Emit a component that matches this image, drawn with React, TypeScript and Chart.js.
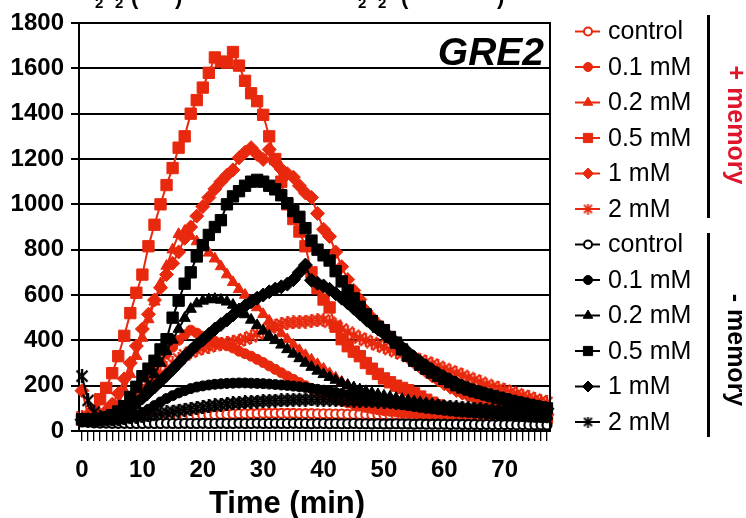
import React, { useEffect, useRef } from "react";
import { Chart, registerables } from "chart.js";
import { drawPoint } from "chart.js/helpers";

Chart.register(...registerables);

const FONT = 'Arial, "Liberation Sans", Helvetica, sans-serif';
const RED = "#e8290d";
const MEMORY_RED = "#e0142a";
const BLACK = "#000000";

// Sampling times, one reading per minute
const timeMin = Array.from({ length: 78 }, (_, i) => i);
const xLabelEvery = 10;

const doseLabels = ["control", "0.1 mM", "0.2 mM", "0.5 mM", "1 mM", "2 mM"];
const groupLabels = ["+ memory", "- memory"];
const panelName = "GRE2";
const xTitle = "Time (min)";
const headerParts = ["H", "2", "O", "2", "(", "mM", ")"];

// + memory (pre-treated cells)
const plusControl = [
  45, 42, 40, 40, 42, 44, 45, 46, 48, 50,
  52, 54, 56, 58, 60, 62, 64, 66, 68, 70,
  70, 72, 72, 74, 74, 75, 76, 76, 77, 77,
  78, 78, 78, 78, 78, 78, 77, 77, 77, 76,
  76, 76, 75, 75, 74, 74, 73, 73, 72, 72,
  71, 70, 70, 69, 68, 68, 67, 66, 66, 65,
  64, 63, 62, 61, 60, 59, 58, 57, 56, 55,
  54, 53, 52, 51, 50, 49, 48, 47,
];
const plus01 = [
  50, 48, 46, 45, 48, 52, 58, 75, 105, 145,
  185, 225, 265, 305, 340, 370, 400, 425, 445, 432,
  418, 406, 396, 386, 376, 366, 352, 341, 330, 316,
  302, 287, 272, 257, 242, 228, 214, 200, 187, 174,
  162, 151, 141, 132, 124, 117, 110, 104, 99, 94,
  90, 87, 84, 81, 79, 77, 75, 73, 71, 69,
  67, 65, 63, 61, 60, 58, 57, 56, 55, 54,
  53, 52, 51, 50, 49, 48, 47, 46,
];
const plus02 = [
  52, 50, 52, 55, 60, 80, 118, 178, 250, 330,
  410, 492, 570, 650, 728, 800, 868, 882, 860, 836,
  810, 786, 760, 726, 690, 656, 625, 600, 574, 545,
  515, 486, 456, 430, 404, 380, 356, 334, 314, 294,
  274, 254, 235, 216, 201, 188, 176, 166, 157, 150,
  143, 137, 131, 126, 121, 116, 111, 106, 102, 98,
  94, 90, 87, 84, 81, 78, 76, 74, 72, 70,
  68, 66, 64, 62, 60, 58, 56, 55,
];
const plus05 = [
  50, 58, 90, 140, 190, 255, 330, 420, 520, 610,
  690, 815, 910, 1000, 1085, 1160, 1250, 1300, 1400, 1460,
  1515, 1580, 1648, 1630, 1625, 1672, 1612, 1545, 1490, 1455,
  1395, 1300, 1200, 1100, 1000, 935, 880, 815, 700, 630,
  580, 545, 460, 405, 374, 350, 330, 300, 275, 252,
  232, 215, 200, 190, 180, 166, 152, 138, 125, 113,
  103, 96, 90, 85, 81, 78, 75, 72, 70, 68,
  66, 64, 63, 62, 61, 60, 59, 58,
];
const plus1 = [
  178, 72, 60, 68, 88, 118, 165, 230, 300, 375,
  450, 515, 578, 632, 690, 740, 790, 850, 900, 948,
  990, 1030, 1068, 1100, 1128, 1152, 1205, 1230, 1250, 1220,
  1198, 1242, 1185, 1155, 1135, 1120, 1082, 1050, 1030, 960,
  890, 858, 790, 725, 668, 620, 580, 530, 500, 470,
  440, 410, 380, 352, 325, 302, 282, 262, 243, 225,
  208, 193, 179, 167, 156, 146, 137, 128, 120, 113,
  107, 101, 96, 91, 86, 81, 76, 72,
];
const plus2 = [
  62, 60, 56, 55, 58, 68, 84, 104, 128, 152,
  178, 203, 228, 252, 276, 298, 318, 336, 348, 358,
  366, 372, 378, 384, 388, 393, 398, 406, 416, 428,
  442, 455, 465, 472, 476, 479, 481, 483, 486, 488,
  490, 480, 466, 450, 436, 422, 410, 400, 390, 380,
  370, 360, 350, 340, 330, 320, 312, 304, 295, 285,
  275, 265, 255, 245, 235, 225, 215, 205, 196, 188,
  180, 172, 164, 156, 148, 140, 133, 126,
];

// - memory (naive cells)
const minusControl = [
  40, 38, 36, 35, 35, 34, 34, 34, 33, 33,
  33, 34, 33, 33, 34, 33, 33, 34, 33, 33,
  34, 33, 33, 34, 33, 33, 34, 33, 33, 34,
  33, 33, 34, 33, 33, 34, 33, 33, 32, 33,
  33, 32, 33, 32, 32, 33, 32, 32, 31, 32,
  31, 31, 32, 31, 31, 30, 31, 30, 30, 30,
  30, 29, 30, 29, 29, 29, 28, 29, 28, 28,
  28, 28, 27, 28, 27, 27, 27, 26,
];
const minus01 = [
  46, 45, 44, 44, 45, 46, 48, 52, 60, 70,
  82, 96, 112, 128, 143, 156, 168, 178, 187, 194,
  199, 203, 206, 208, 210, 211, 212, 212, 211, 210,
  209, 207, 205, 203, 201, 198, 195, 192, 188, 184,
  180, 175, 170, 165, 160, 155, 150, 145, 140, 135,
  130, 125, 120, 116, 112, 108, 104, 100, 97, 94,
  91, 88, 85, 83, 81, 79, 77, 75, 73, 71,
  69, 67, 65, 63, 61, 60, 59, 58,
];
const minus02 = [
  50, 49, 48, 48, 50, 52, 56, 64, 82, 112,
  150, 198, 250, 300, 352, 402, 450, 498, 538, 562,
  574, 580, 582, 578, 570, 556, 536, 514, 490, 466,
  442, 420, 400, 380, 360, 340, 320, 300, 282, 265,
  250, 237, 225, 213, 202, 192, 183, 175, 168, 161,
  155, 150, 145, 140, 135, 130, 126, 122, 118, 114,
  110, 107, 104, 101, 98, 95, 92, 89, 86, 84,
  82, 80, 78, 76, 74, 72, 70, 68,
];
const minus05 = [
  52, 50, 50, 54, 60, 70, 86, 110, 150, 195,
  242, 275, 310, 360, 405, 500, 575, 650, 700, 770,
  820, 865, 900, 930, 1000, 1035, 1058, 1082, 1100, 1108,
  1100, 1082, 1066, 1040, 1005, 970, 945, 895, 840, 800,
  775, 752, 705, 660, 620, 585, 548, 515, 485, 460,
  445, 415, 390, 360, 332, 310, 292, 275, 258, 244,
  230, 216, 202, 192, 183, 175, 168, 161, 154, 147,
  140, 133, 127, 121, 115, 110, 105, 100,
];
const minus1 = [
  50, 50, 52, 54, 58, 64, 74, 88, 104, 124,
  146, 170, 194, 220, 246, 272, 300, 328, 354, 380,
  402, 426, 450, 470, 490, 512, 532, 552, 570, 586,
  600, 614, 626, 636, 648, 668, 700, 732, 665, 652,
  640, 625, 606, 586, 565, 542, 518, 494, 472, 450,
  430, 410, 390, 368, 346, 325, 305, 286, 268, 252,
  237, 223, 210, 198, 187, 177, 168, 160, 152, 145,
  138, 132, 126, 120, 114, 108, 103, 98,
];
const minus2 = [
  242, 135, 82, 62, 56, 55, 55, 57, 60, 63,
  66, 70, 74, 78, 82, 86, 90, 94, 98, 102,
  106, 110, 113, 116, 119, 122, 124, 126, 128, 130,
  131, 133, 134, 135, 136, 137, 138, 138, 139, 138,
  138, 138, 137, 136, 135, 134, 133, 132, 131, 130,
  128, 126, 124, 122, 120, 118, 116, 114, 112, 110,
  108, 106, 104, 102, 100, 98, 96, 94, 92, 90,
  88, 86, 84, 82, 80, 78, 76, 74,
];

const plusSeries = [plusControl, plus01, plus02, plus05, plus1, plus2];
const minusSeries = [minusControl, minus01, minus02, minus05, minus1, minus2];

// Marker per dose: control is hollow, 2 mM uses an asterisk drawn on a small canvas
const markerStyle = ["circle", "circle", "triangle", "rect", "rectRot", "star"];
const markerRadius = [4.5, 5, 6.5, 8, 7, 7];
const legendRadius = [4, 4.5, 5.5, 6.5, 5.5, 0];

function makeStar(color: string, size: number, lw: number): HTMLCanvasElement {
  const c = document.createElement("canvas");
  c.width = size;
  c.height = size;
  const g = c.getContext("2d")!;
  g.strokeStyle = color;
  g.lineWidth = lw;
  const m = 1.5;
  g.beginPath();
  g.moveTo(m, m);
  g.lineTo(size - m, size - m);
  g.moveTo(size - m, m);
  g.lineTo(m, size - m);
  g.moveTo(size / 2, 0);
  g.lineTo(size / 2, size);
  g.stroke();
  return c;
}

export default function App() {
  const ref = useRef<HTMLCanvasElement>(null);

  useEffect(() => {
    const canvas = ref.current;
    if (!canvas) return;

    const stars = {
      [RED]: makeStar(RED, 14, 2.4),
      [BLACK]: makeStar(BLACK, 14, 2.4),
    };
    const legendStars = {
      [RED]: makeStar(RED, 11, 1.8),
      [BLACK]: makeStar(BLACK, 11, 1.8),
    };

    const groups = [
      { series: plusSeries, color: RED },
      { series: minusSeries, color: BLACK },
    ];

    const datasets: any[] = [];
    groups.forEach((grp) => {
      grp.series.forEach((values, k) => {
        const idx = datasets.length;
        const style = markerStyle[k];
        const hollow = k === 0;
        datasets.push({
          label: `${doseLabels[k]}`,
          data: values,
          borderColor: grp.color,
          backgroundColor: grp.color,
          borderWidth: 2,
          pointStyle: style === "star" ? stars[grp.color] : style,
          pointRadius: markerRadius[k],
          pointBackgroundColor: hollow ? "#ffffff" : grp.color,
          pointBorderColor: grp.color,
          pointBorderWidth: hollow ? 2.2 : 1,
          tension: 0,
          clip: false,
          // later series are painted over earlier ones
          order: 11 - idx,
        });
      });
    });

    const decorations = {
      id: "decorations",
      afterDraw(chart: any) {
        const { ctx, chartArea: a } = chart;
        ctx.save();

        // frame on the right
        ctx.strokeStyle = BLACK;
        ctx.lineWidth = 2;
        ctx.beginPath();
        ctx.moveTo(a.right, a.top - 1);
        ctx.lineTo(a.right, a.bottom + 1);
        ctx.stroke();

        ctx.fillStyle = BLACK;
        // panel name
        ctx.font = `italic bold 39px ${FONT}`;
        ctx.textAlign = "right";
        ctx.textBaseline = "alphabetic";
        ctx.fillText(panelName, a.right - 6, 65);

        // axis title
        ctx.font = `bold 31px ${FONT}`;
        ctx.textAlign = "center";
        ctx.fillText(xTitle, 287, 513);

        // header above the panel (only its lowest part falls on the canvas)
        ctx.textAlign = "left";
        [
          { x: [78, 95, 99, 115, 131, 140, 175] },
          { x: [341, 358, 362, 378, 401, 430, 497] },
        ].forEach((h) => {
          const big = `bold 22px ${FONT}`;
          const small = `bold 15px ${FONT}`;
          const fonts = [big, small, big, small, big, big, big];
          const base = [-1, 8, -1, 8, 3.5, -1, 3.5];
          headerParts.forEach((p, j) => {
            ctx.font = fonts[j];
            ctx.fillText(p, h.x[j], base[j]);
          });
        });

        // legend
        const rowY = (i: number) => 31.5 + 35.5 * i;
        groups.forEach((grp, gi) => {
          doseLabels.forEach((lab, k) => {
            const i = gi * 6 + k;
            const y = rowY(i);
            ctx.strokeStyle = grp.color;
            ctx.lineWidth = 2;
            ctx.beginPath();
            ctx.moveTo(575, y);
            ctx.lineTo(600, y);
            ctx.stroke();
            const cx = 588;
            if (markerStyle[k] === "star") {
              const img = legendStars[grp.color];
              ctx.drawImage(img, cx - img.width / 2, y - img.height / 2);
            } else {
              ctx.fillStyle = k === 0 ? "#ffffff" : grp.color;
              ctx.strokeStyle = grp.color;
              ctx.lineWidth = k === 0 ? 2 : 1;
              drawPoint(ctx, { pointStyle: markerStyle[k], radius: legendRadius[k], rotation: 0, borderWidth: ctx.lineWidth } as any, cx, y);
            }
            ctx.fillStyle = BLACK;
            ctx.font = `25px ${FONT}`;
            ctx.textAlign = "left";
            ctx.textBaseline = "middle";
            ctx.fillText(lab, 608, y + 1);
          });
        });

        // group brackets and rotated group names
        ctx.fillStyle = BLACK;
        ctx.fillRect(707, 15, 3, 203);
        ctx.fillRect(707, 233, 3, 204);
        [
          { text: groupLabels[0], y: 125, color: MEMORY_RED },
          { text: groupLabels[1], y: 350, color: BLACK },
        ].forEach((g) => {
          ctx.save();
          ctx.translate(735, g.y);
          ctx.rotate(Math.PI / 2);
          ctx.font = `bold 25px ${FONT}`;
          ctx.textAlign = "center";
          ctx.textBaseline = "middle";
          ctx.fillStyle = g.color;
          ctx.fillText(g.text, 0, 0);
          ctx.restore();
        });

        ctx.restore();
      },
    };

    const chart = new Chart(canvas, {
      type: "line",
      data: { labels: timeMin.map(String), datasets },
      options: {
        responsive: false,
        animation: false,
        devicePixelRatio: 1,
        layout: { padding: { top: 23, right: 196, left: 0, bottom: 0 } },
        plugins: { legend: { display: false }, tooltip: { enabled: false }, title: { display: false } },
        scales: {
          x: {
            type: "category",
            offset: true,
            afterFit: (s: any) => {
              s.height = 87;
            },
            grid: {
              drawOnChartArea: false,
              drawTicks: true,
              tickLength: 10,
              color: BLACK,
              lineWidth: 1.3,
            },
            border: { display: true, color: BLACK, width: 2 },
            ticks: {
              autoSkip: false,
              maxRotation: 0,
              minRotation: 0,
              padding: 15,
              color: BLACK,
              font: { family: FONT, size: 24, weight: "bold" },
              callback: (_v: any, i: number) => (timeMin[i] % xLabelEvery === 0 ? String(timeMin[i]) : ""),
            },
          },
          y: {
            min: 0,
            max: 1800,
            afterFit: (s: any) => {
              s.width = 79;
            },
            grid: { color: BLACK, lineWidth: 2, tickLength: 8, drawTicks: true },
            border: { display: true, color: BLACK, width: 2 },
            ticks: {
              stepSize: 200,
              padding: 7,
              color: BLACK,
              font: { family: FONT, size: 24, weight: "bold" },
              callback: (v: any) => String(v),
            },
          },
        },
      },
      plugins: [decorations],
    });

    return () => chart.destroy();
  }, []);

  return (
    <div style={{ position: "fixed", left: 0, top: 0, width: 746, height: 518, background: "#ffffff" }}>
      <canvas ref={ref} width={746} height={518} style={{ display: "block", width: 746, height: 518 }} />
    </div>
  );
}
